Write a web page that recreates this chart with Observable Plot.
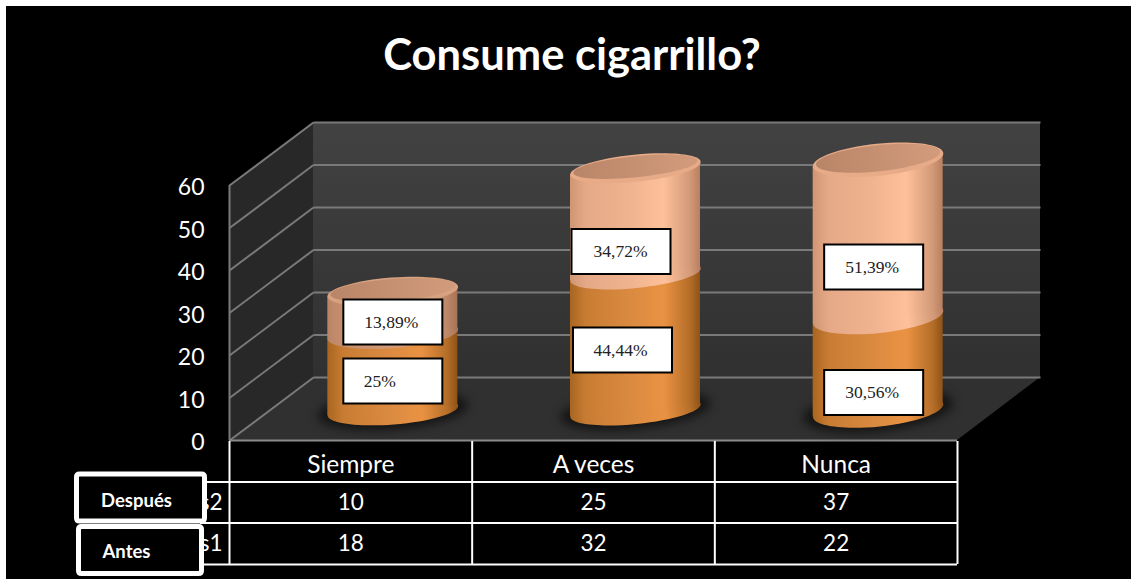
<!DOCTYPE html>
<html>
<head>
<meta charset="utf-8">
<script src="https://cdn.jsdelivr.net/npm/d3@7"></script>
<script src="https://cdn.jsdelivr.net/npm/@observablehq/plot@0.6"></script>
<style>
html,body{margin:0;padding:0;background:#fff;overflow:hidden}
.blur{filter:blur(5px)}
</style>
</head>
<body>
<div id="chart"></div>
<script>
const categories = ["Siempre", "A veces", "Nunca"];
const antes = [18, 32, 22];
const despues = [10, 25, 37];
const antesLabels = ["25%", "44,44%", "30,56%"];
const despuesLabels = ["13,89%", "34,72%", "51,39%"];
const yTicks = [0, 10, 20, 30, 40, 50, 60];
const seriesStubs = ["s2", "s1"];

// Drawing configuration (px)
const W = 1131, H = 579;
const X0 = 229, XW = 728 / 3, Y0 = 440, YU = 4.25;
const xAt = p => (p - X0) / XW, yAt = p => (Y0 - p) / YU;
const depthX = 84 / XW, depthY = 63 / YU;
const cyl = {dx: 42, dy: -30};
const tilt = [-4.4, -5.7, -6], squash = [14, 13.5, 16], R = 65.5;
const boxW = 99, boxH = 45;
const nudgeA = [[0, 8.75], [-13, 7.5], [-4.5, 28.75]];
const nudgeD = [[0, 9.25], [-14.5, 30], [-4.5, 28.6]];
const textShiftA = [-13, -2, -1.5], textShiftD = [-1.5, -0.5, -1.5];

const sans = "Lato", serif = "Liberation Serif";

const ellipse = ry => ({
  draw(c, size) {
    const rx = Math.sqrt(size / Math.PI), k = 0.5523;
    c.moveTo(rx, 0);
    c.bezierCurveTo(rx, k * ry, k * rx, ry, 0, ry);
    c.bezierCurveTo(-k * rx, ry, -rx, k * ry, -rx, 0);
    c.bezierCurveTo(-rx, -k * ry, -k * rx, -ry, 0, -ry);
    c.bezierCurveTo(k * rx, -ry, rx, -k * ry, rx, 0);
    c.closePath();
  }
});
const box = (w, h, rad = 0) => ({
  draw(c) {
    const x = w / 2, y = h / 2;
    c.moveTo(-x + rad, -y);
    c.lineTo(x - rad, -y);
    if (rad) c.quadraticCurveTo(x, -y, x, -y + rad);
    c.lineTo(x, y - rad);
    if (rad) c.quadraticCurveTo(x, y, x - rad, y);
    c.lineTo(-x + rad, y);
    if (rad) c.quadraticCurveTo(-x, y, -x, y - rad);
    c.lineTo(-x, -y + rad);
    if (rad) c.quadraticCurveTo(-x, -y, -x + rad, -y);
    c.closePath();
  }
});

const defs = d3.create("svg:defs");
function gradient(id, stops, vertical) {
  const g = defs.append("linearGradient").attr("id", id)
    .attr("x1", 0).attr("y1", 0).attr("x2", vertical ? 0 : 1).attr("y2", vertical ? 1 : 0);
  stops.forEach(([o, col]) => g.append("stop").attr("offset", o).attr("stop-color", col));
}
gradient("wall", [[0, "#424242"], [1, "#303030"]], true);
gradient("orange", [[0, "#a9651f"], [0.12, "#c87c33"], [0.45, "#d98a40"], [0.72, "#ea9243"], [0.92, "#b56e28"], [1, "#8f5218"]]);
gradient("light", [[0, "#cf9674"], [0.12, "#e6a988"], [0.45, "#f0b38f"], [0.72, "#fdc09a"], [0.92, "#d39a78"], [1, "#b88060"]]);
gradient("lightDim", [[0, "#b98567"], [0.12, "#c78f6f"], [0.5, "#d49b7a"], [0.75, "#d6a07e"], [0.92, "#bd8868"], [1, "#a67357"]]);
gradient("cap", [[0, "#b98568"], [0.6, "#c89274"], [1, "#d29c7c"]]);

const cylinderMarks = categories.flatMap((c, i) => {
  const cx = i + 0.5, a = antes[i], t = a + despues[i];
  const shift = R * Math.abs(Math.sin(tilt[i] * Math.PI / 180)) * 0.96 / YU;
  const half = 65 / XW;
  const seg = (v1, v2) => [
    {x: cx - half, y1: v1 - shift, y2: v2 - shift},
    {x: cx + half, y1: v1 + shift, y2: v2 + shift}
  ];
  const dot = (v, r, ry, fill, extra = {}) =>
    Plot.dot([v], {x: () => cx, y: d => d, r, symbol: ellipse(ry), rotate: tilt[i], fill, ...cyl, ...extra});
  const lightFill = i === 0 ? "url(#lightDim)" : "url(#light)";
  return [
    dot(0, R + 10, squash[i] + 5, "#0a0a0a", {className: "blur", fillOpacity: 0.7}),
    dot(0, R, squash[i], "url(#orange)"),
    Plot.area(seg(0, a), {x1: "x", y1: "y1", y2: "y2", fill: "url(#orange)", ...cyl}),
    dot(a, R, squash[i], lightFill),
    Plot.area(seg(a, t), {x1: "x", y1: "y1", y2: "y2", fill: lightFill, ...cyl}),
    dot(t, R, squash[i], i === 0 ? "#d7a27f" : "#e8ab88"),
    dot(t, R - 3, squash[i] - 3, "url(#cap)", {dy: cyl.dy - 1.5})
  ];
});

const labelRow = (text, mid, i, nudge, ts) => ({
  text,
  x: i + 0.5 + (42 + nudge[i][0]) / XW,
  y: mid + (30 - nudge[i][1]) / YU,
  tx: i + 0.5 + (42 + nudge[i][0] + ts[i]) / XW
});
const labelRows = categories.flatMap((c, i) => [
  labelRow(antesLabels[i], antes[i] / 2, i, nudgeA, textShiftA),
  labelRow(despuesLabels[i], antes[i] + despues[i] / 2, i, nudgeD, textShiftD)
]);

const rowY = [465, 502, 543];
const numberRows = [
  ...despues.map((v, i) => ({x: i + 0.5, py: rowY[1], t: String(v)})),
  ...antes.map((v, i) => ({x: i + 0.5, py: rowY[2], t: String(v)}))
];

const chart = Plot.plot({
  width: W, height: H,
  marginTop: 0, marginRight: 0, marginBottom: 0, marginLeft: 0,
  style: "background-color:#fff;background-image:linear-gradient(#000,#000);background-position:6px 6px;background-repeat:no-repeat;overflow:hidden",
  x: {type: "linear", domain: [0, 3], range: [X0, X0 + 3 * XW], axis: null},
  y: {type: "linear", domain: [0, 60], range: [Y0, Y0 - 60 * YU], axis: null},
  marks: [
    () => defs.node(),
    // back wall, left wall, floor
    Plot.rect([{}], {x1: () => depthX, x2: () => 3 + depthX - 1 / XW, y1: () => depthY, y2: () => 60 + depthY, fill: "url(#wall)"}),
    Plot.area([{x: 0, y1: 0, y2: 60}, {x: depthX, y1: depthY, y2: 60 + depthY}], {x1: "x", y1: "y1", y2: "y2", fill: "#282828"}),
    Plot.area([{x1: 0, y1: 0, x2: 3, y2: 0}, {x1: depthX, y1: depthY, x2: 3 + depthX - 1 / XW, y2: depthY}], {x1: "x1", y1: "y1", x2: "x2", y2: "y2", fill: "#303030"}),
    // gridlines
    Plot.link(yTicks, {x1: () => 0, y1: d => d, x2: () => depthX, y2: d => d + depthY, stroke: "#7a7a7a", strokeWidth: 2}),
    Plot.link(yTicks, {x1: () => depthX, y1: d => d + depthY, x2: () => 3 + depthX - 1 / XW, y2: d => d + depthY, stroke: "#7a7a7a", strokeWidth: 2}),
    Plot.ruleX([0], {y1: 0, y2: 60, stroke: "#7a7a7a", strokeWidth: 2}),
    Plot.ruleY([0], {x1: 0, x2: 3, stroke: "#8a8a8a", strokeWidth: 2}),
    // axis
    Plot.axisY(yTicks, {x: 0, anchor: "left", tickSize: 0, tickPadding: 25, label: null, fontSize: 23, fontFamily: sans, color: "#fff", dy: 2.5}),
    // table
    Plot.ruleX([0, 1, 2, 3], {y1: yAt(441), y2: yAt(564), stroke: "#fff", strokeWidth: 2}),
    Plot.ruleY([yAt(481.5), yAt(522.5), yAt(564)], {x1: xAt(200), x2: 3, stroke: "#fff", strokeWidth: 2}),
    Plot.text(categories, {x: (d, i) => i + 0.5, y: () => yAt(rowY[0]), text: d => d, fontSize: 24.5, fontFamily: sans, fill: "#fff"}),
    Plot.text(numberRows, {x: "x", y: d => yAt(d.py), text: "t", fontSize: 22.5, fontFamily: sans, fill: "#fff"}),
    Plot.text(seriesStubs, {x: () => 0, y: (d, i) => yAt(rowY[i + 1]), text: d => d, textAnchor: "end", dx: -7, fontSize: 22.5, fontFamily: sans, fill: "#fff"}),
    // cylinders
    ...cylinderMarks,
    // value labels
    Plot.dot(labelRows, {x: "x", y: "y", r: 1, symbol: box(boxW, boxH), fill: "#fff", stroke: "#000", strokeWidth: 2}),
    Plot.text(labelRows, {x: "tx", y: "y", text: "text", fontSize: 17.5, fontFamily: serif, fill: "#222"}),
    // legend boxes
    Plot.dot([0], {x: () => xAt(139.5), y: () => yAt(549.5), r: 1, symbol: box(123, 47, 3), fill: "#000", stroke: "#fff", strokeWidth: 5}),
    Plot.dot([0], {x: () => xAt(140), y: () => yAt(497), r: 1, symbol: box(128, 47, 3), fill: "#000", stroke: "#fff", strokeWidth: 5}),
    Plot.text(["Después"], {x: () => xAt(136), y: () => yAt(501), text: d => d, fontSize: 18.5, fontWeight: 700, fontFamily: sans, fill: "#fff"}),
    Plot.text(["Antes"], {x: () => xAt(126), y: () => yAt(552), text: d => d, fontSize: 18.5, fontWeight: 700, fontFamily: sans, fill: "#fff"}),
    // title
    Plot.text(["Consume cigarrillo?"], {x: () => xAt(571.5), y: () => yAt(56), text: d => d, fontSize: 43.5, fontWeight: 700, fontFamily: sans, fill: "#fff"})
  ]
});
document.getElementById("chart").appendChild(chart);
</script>
</body>
</html>
